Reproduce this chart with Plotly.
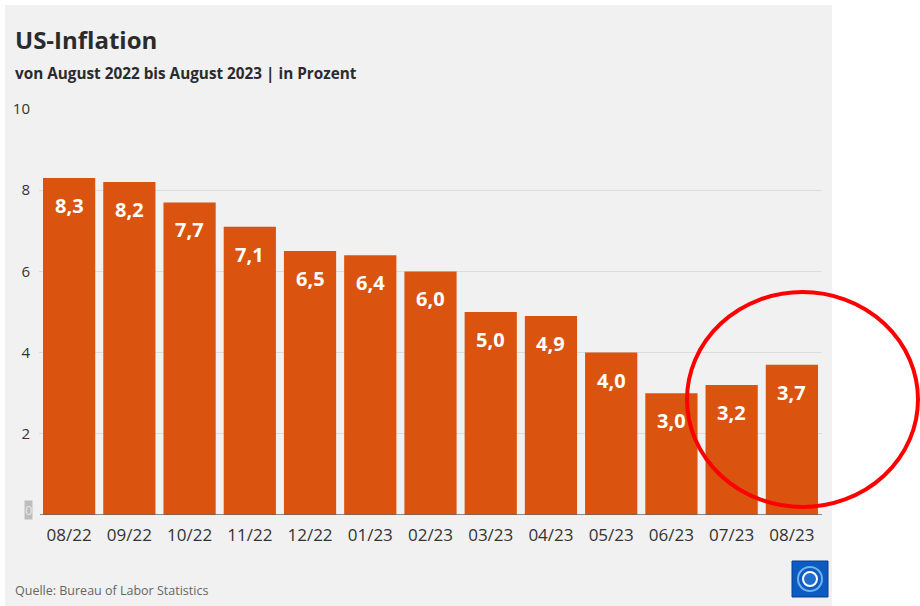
import plotly.graph_objects as go

months = ["08/22", "09/22", "10/22", "11/22", "12/22", "01/23", "02/23",
          "03/23", "04/23", "05/23", "06/23", "07/23", "08/23"]
inflation = [8.3, 8.2, 7.7, 7.1, 6.5, 6.4, 6.0, 5.0, 4.9, 4.0, 3.0, 3.2, 3.7]
y_ticks = [2, 4, 6, 8, 10]

W, H = 920, 606
L, R, T, B = 39, 822, 109, 515  # plot area in pixels


def px(x):
    return (x - L) / (R - L)


def py(y):
    return (B - y) / (B - T)


FONT = "Open Sans"
BAR = "#DA530F"

fig = go.Figure()
fig.add_trace(go.Bar(
    x=months, y=inflation, marker=dict(color=BAR, line=dict(width=0)),
    hoverinfo="skip",
))

annotations = []
for m, v in zip(months, inflation):
    annotations.append(dict(
        x=m, y=v, xref="x", yref="y", text="<b>" + f"{v:.1f}".replace(".", ",") + "</b>",
        showarrow=False, yanchor="top", yshift=-12,
        font=dict(family=FONT, size=20, color="white"),
    ))

annotations += [
    dict(x=px(13), y=py(40), xref="paper", yref="paper", xanchor="left", yanchor="middle",
         text="<b>US-Inflation</b>", showarrow=False,
         font=dict(family=FONT, size=24, color="#2b2b2b")),
    dict(x=px(13), y=py(73), xref="paper", yref="paper", xanchor="left", yanchor="middle",
         text="<b>von August 2022 bis August 2023 | in Prozent</b>", showarrow=False,
         font=dict(family=FONT, size=15.3, color="#2b2b2b")),
    dict(x=px(13), y=py(590), xref="paper", yref="paper", xanchor="left", yanchor="middle",
         text="Quelle: Bureau of Labor Statistics", showarrow=False,
         font=dict(family=FONT, size=12.5, color="#666666")),
    dict(x=px(28), y=py(510), xref="paper", yref="paper", xanchor="center", yanchor="middle",
         text="0", showarrow=False, bgcolor="#BDBDBD", borderpad=0,
         font=dict(family=FONT, size=13, color="#E6E6E6")),
]

shapes = [
    dict(type="rect", xref="paper", yref="paper", layer="below",
         x0=px(5), x1=px(832), y0=py(608), y1=py(5),
         fillcolor="#F1F1F1", line=dict(width=0)),
    dict(type="line", xref="paper", yref="y", x0=px(40), x1=px(822), y0=0, y1=0,
         line=dict(color="#666666", width=1.5)),
    # logo
    dict(type="rect", xref="paper", yref="paper",
         x0=px(792), x1=px(828), y0=py(597), y1=py(561),
         fillcolor="#0D5BC0", line=dict(color="#0A3E8F", width=1)),
    dict(type="circle", xref="paper", yref="paper",
         x0=px(798), x1=px(822), y0=py(591), y1=py(567),
         fillcolor="rgba(0,0,0,0)", line=dict(color="#6FB4F0", width=2)),
    dict(type="circle", xref="paper", yref="paper",
         x0=px(803), x1=px(817), y0=py(586), y1=py(572),
         fillcolor="#1F6FD0", line=dict(color="white", width=2)),
    # red highlight ellipse
    dict(type="circle", xref="paper", yref="paper",
         x0=px(687), x1=px(918), y0=py(507), y1=py(292),
         fillcolor="rgba(0,0,0,0)", line=dict(color="#FF0000", width=4)),
]

fig.update_layout(
    width=W, height=H,
    margin=dict(l=L, r=W - R, t=T, b=H - B, pad=0),
    paper_bgcolor="white", plot_bgcolor="rgba(0,0,0,0)",
    bargap=0.133, showlegend=False,
    font=dict(family=FONT, color="#333333"),
    xaxis=dict(showgrid=False, showline=False, ticks="", zeroline=False,
               ticklabelstandoff=8,
               tickfont=dict(family=FONT, size=17, color="#333333"), fixedrange=True),
    yaxis=dict(range=[0, 10], tickvals=y_ticks, ticktext=[str(t) for t in y_ticks],
               showgrid=True, gridcolor="#DCDCDC", gridwidth=1, zeroline=False,
               showline=False, ticks="", ticklabelstandoff=8, fixedrange=True,
               tickfont=dict(family=FONT, size=15, color="#333333")),
    annotations=annotations, shapes=shapes,
)

fig.write_html("out.html", config={"displayModeBar": False},
               post_script="document.body.style.margin='0';")
